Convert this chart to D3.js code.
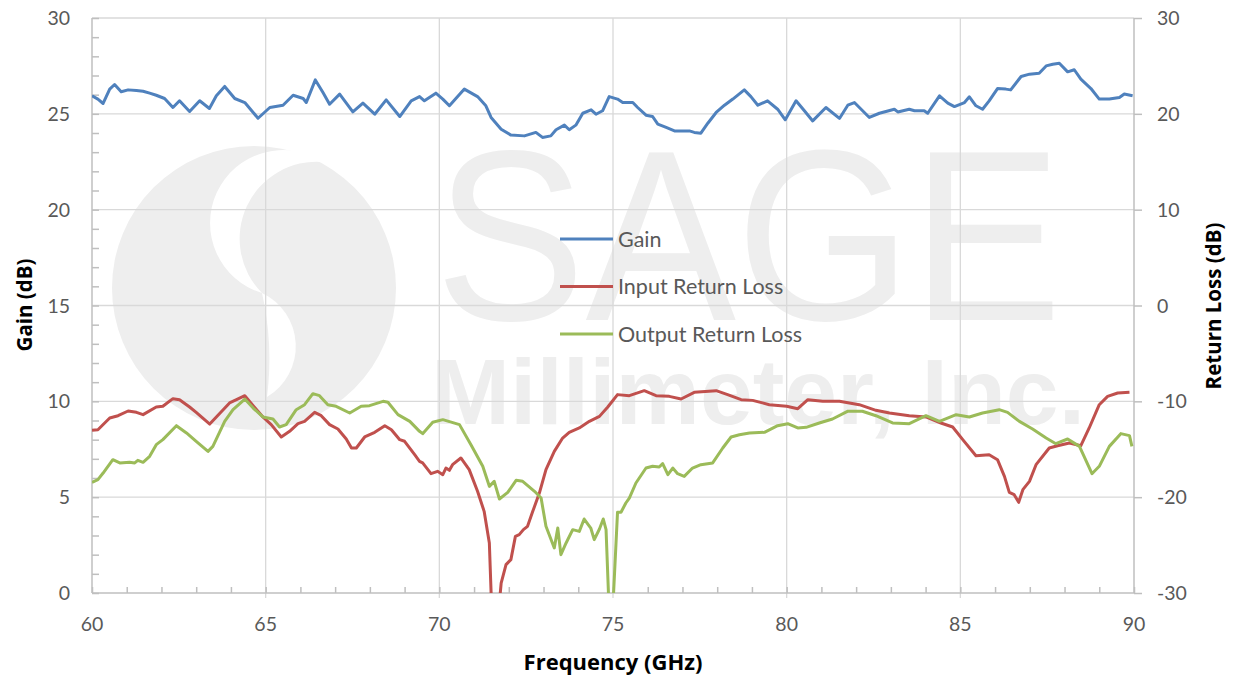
<!DOCTYPE html>
<html>
  <head>
    <script src="https://d3js.org/d3.v7.min.js" charset="utf-8"></script>
    <meta charset="UTF-8">
    <title>gain and return loss</title>
    <style>
      body { margin: 0; background: #fff; }
      text { font-family: Lato, "Open Sans", sans-serif; fill: #595959; }
      .title { font-family: "Open Sans", Lato, sans-serif; font-weight: bold; fill: #000; }
    </style>
  </head>
  <body>
    <svg class="chart"></svg>
    <script type="text/javascript">

     // gain (left axis, dB)
     var gainFreq = [60.0,60.17,60.32,60.51,60.65,60.84,61.04,61.28,61.47,61.66,61.85,62.09,62.33,62.52,62.81,63.1,63.38,63.58,63.82,64.11,64.4,64.78,65.12,65.5,65.79,66.08,66.17,66.43,66.65,66.84,67.13,67.51,67.8,68.14,68.47,68.86,69.19,69.43,
                     69.57,69.9,70.1,70.29,70.72,71.1,71.34,71.49,71.78,72.06,72.45,72.78,72.97,73.21,73.36,73.6,73.74,73.93,74.13,74.37,74.51,74.7,74.89,75.13,75.28,75.57,75.71,75.95,76.14,76.29,76.53,76.77,77.01,77.2,77.34,77.53,77.73,77.97,78.21,78.45,78.78,78.97,79.17,79.45,79.74,79.96,80.27,80.51,80.75,
                     81.13,81.52,81.76,81.95,82.38,82.67,83.1,83.2,83.53,83.68,83.96,84.06,84.4,84.64,84.83,85.12,85.26,85.45,85.64,85.83,86.07,86.31,86.45,86.75,86.99,87.27,87.47,87.66,87.85,88.09,88.28,88.47,88.76,89.0,89.29,89.58,89.72,89.96];
     var gainDb = [25.94,25.77,25.54,26.29,26.53,26.15,26.25,26.22,26.18,26.08,25.97,25.8,25.33,25.68,25.12,25.68,25.28,25.94,26.43,25.8,25.59,24.77,25.33,25.45,25.97,25.8,25.59,26.77,26.11,25.5,26.03,25.1,25.56,24.98,25.73,24.86,25.68,25.9,
                   25.68,26.08,25.77,25.42,26.29,25.9,25.42,24.81,24.2,23.89,23.85,24.03,23.77,23.85,24.17,24.41,24.17,24.41,25.03,25.21,24.98,25.16,25.9,25.77,25.59,25.59,25.33,24.93,24.86,24.46,24.29,24.11,24.11,24.11,24.03,23.99,24.51,25.07,25.45,25.77,26.25,25.9,25.45,25.68,25.24,24.69,25.68,25.16,24.63,
                   25.33,24.76,25.45,25.59,24.81,25.03,25.24,25.1,25.24,25.16,25.16,25.03,25.94,25.56,25.38,25.59,25.89,25.42,25.24,25.68,26.32,26.29,26.25,26.95,27.07,27.12,27.5,27.59,27.64,27.19,27.3,26.81,26.32,25.77,25.77,25.85,26.03,25.94];

     // input return loss (right axis, dB)
     var inFreq = [60.0,60.17,60.51,60.75,61.04,61.28,61.47,61.85,62.04,62.33,62.52,62.81,63.0,63.39,63.58,63.96,64.16,64.4,64.64,64.92,65.16,65.45,65.69,65.93,66.12,66.41,66.6,66.84,67.08,67.32,67.47,67.61,67.85,68.14,68.43,68.62,68.86,69.0,69.29,69.43,
                   69.52,69.76,69.95,70.1,70.19,70.29,70.38,70.62,70.86,71.1,71.29,71.44,71.52,71.62,71.73,71.78,71.92,72.06,72.19,72.3,72.42,72.54,72.69,72.88,73.07,73.31,73.55,73.74,74.03,74.32,74.61,74.85,75.13,75.47,75.9,76.24,76.62,76.96,77.34,77.97,78.3,78.69,79.02,79.5,80.0,80.32,80.61,
                   81.04,81.52,82.09,82.57,82.96,83.53,84.01,84.44,84.78,85.07,85.45,85.83,86.07,86.27,86.41,86.55,86.68,86.8,86.99,87.18,87.56,87.8,88.14,88.47,88.71,89.0,89.24,89.53,89.87];
     var inRl = [-13.03,-12.96,-11.74,-11.5,-11.01,-11.15,-11.39,-10.59,-10.52,-9.72,-9.83,-10.59,-11.15,-12.37,-11.63,-10.17,-9.83,-9.41,-10.45,-11.63,-12.43,-13.72,-13.13,-12.33,-12.09,-11.15,-11.5,-12.43,-12.89,-13.93,-14.87,-14.87,-13.72,-13.23,-12.54,-12.96,-14.0,-14.17,-15.57,-16.26,
                 -16.43,-17.55,-17.3,-17.65,-16.96,-17.2,-16.61,-15.91,-17.13,-19.39,-21.48,-24.78,-33,-34,-31,-28.96,-27.04,-26.52,-24.09,-23.91,-23.39,-23.04,-21.48,-19.57,-17.13,-15.22,-13.83,-13.23,-12.78,-12.09,-11.57,-10.59,-9.3,-9.41,-8.89,-9.41,-9.48,-9.76,-9.06,-8.89,-9.3,-9.83,-9.9,-10.35,-10.52,-10.77,-9.83,
                 -10.0,-10.0,-10.35,-10.94,-11.22,-11.5,-11.63,-12.26,-12.68,-14.0,-15.67,-15.57,-16.09,-17.83,-19.5,-19.74,-20.54,-19.22,-18.35,-16.61,-14.87,-14.63,-14.35,-14.63,-12.78,-10.35,-9.48,-9.13,-9.06];

     // output return loss (right axis, dB)
     var outFreq = [60.0,60.17,60.32,60.6,60.8,61.08,61.23,61.32,61.47,61.66,61.85,62.04,62.43,62.72,63.0,63.34,63.48,63.82,64.06,64.4,64.64,64.92,65.21,65.4,65.59,65.88,66.12,66.36,66.55,66.79,67.03,67.42,67.75,67.99,68.38,68.52,68.81,69.15,69.43,
                    69.52,69.81,70.1,70.58,70.91,71.25,71.44,71.58,71.73,71.97,72.21,72.4,72.74,72.93,73.07,73.31,73.41,73.5,73.65,73.84,74.03,74.17,74.36,74.46,74.61,74.72,74.8,74.89,74.99,75.13,75.23,75.37,75.47,75.66,75.95,76.14,76.33,76.43,76.58,76.72,76.86,77.05,77.29,77.53,77.87,78.16,78.4,78.64,78.93,79.36,79.74,80.03,80.32,80.56,
                    80.94,81.32,81.75,82.18,82.57,83.05,83.53,84.01,84.4,84.88,85.26,85.64,86.12,86.36,86.7,87.08,87.47,87.75,88.09,88.43,88.79,89.0,89.29,89.62,89.87,89.94];
     var outRl = [-18.45,-18.17,-17.48,-16.09,-16.43,-16.36,-16.43,-16.16,-16.36,-15.74,-14.52,-14.0,-12.54,-13.3,-14.17,-15.22,-14.7,-12.09,-10.87,-9.76,-10.7,-11.63,-11.84,-12.68,-12.43,-10.87,-10.35,-9.2,-9.41,-10.35,-10.52,-11.22,-10.52,-10.45,-10.0,-10.1,-11.39,-12.09,-13.13,
                  -13.37,-12.19,-11.91,-12.43,-14.52,-16.78,-18.87,-18.35,-20.19,-19.5,-18.24,-18.35,-19.39,-20.09,-23.04,-25.3,-23.22,-26.0,-24.78,-23.39,-23.57,-22.28,-23.22,-24.43,-23.32,-22.28,-23.39,-32,-32,-21.58,-21.58,-20.61,-20.09,-18.52,-16.96,-16.78,-16.85,-16.5,-17.65,-16.96,-17.55,-17.83,-16.96,-16.61,-16.43,-14.87,-13.72,-13.48,-13.3,-13.23,-12.54,-12.33,-12.78,-12.71,
                  -12.26,-11.84,-11.04,-11.04,-11.5,-12.26,-12.33,-11.5,-12.09,-11.39,-11.63,-11.22,-10.87,-11.15,-12.09,-12.89,-13.83,-14.42,-13.93,-14.7,-17.55,-16.78,-14.7,-13.37,-13.58,-14.7];

     var xTicks = [60, 65, 70, 75, 80, 85, 90],
         gainTicks = [0, 5, 10, 15, 20, 25, 30],
         rlTicks = [-30, -20, -10, 0, 10, 20, 30];

     var legendNames = ["Gain", "Input Return Loss", "Output Return Loss"],
         colors = ["#4f81bd", "#c0504d", "#9bbb59"];

     var width = 1236,
         height = 677,
         margin = {top: 18, right: 102, bottom: 84, left: 92};

     var chart = d3.select(".chart")
                   .attr("width", width)
                   .attr("height", height);

     var x = d3.scaleLinear().domain([60, 90]).range([margin.left, width - margin.right]);
     var yGain = d3.scaleLinear().domain([0, 30]).range([height - margin.bottom, margin.top]);
     var yRl = d3.scaleLinear().domain([-30, 30]).range([height - margin.bottom, margin.top]);

     var x0 = x.range()[0], x1 = x.range()[1], y0 = yGain.range()[0], y1 = yGain.range()[1];

     // watermark (logo + company name)
     var wmColor = "#eeeeee";
     var wm = chart.append("g").attr("fill", wmColor);
     wm.append("circle").attr("cx", 254).attr("cy", 288).attr("r", 142);
     wm.append("path").attr("fill", "#fff")
       .attr("d", "M323,162 A73,73 0 1 0 262,293 A77,77 0 0 1 323,162 Z");
     wm.append("path").attr("fill", "#fff")
       .attr("d", "M262,293 A59,59 0 0 1 267,397 A300,300 0 0 0 262,293 Z");
     wm.append("text").attr("x", 435).attr("y", 320)
       .attr("textLength", 627).attr("lengthAdjust", "spacingAndGlyphs")
       .style("font-family", "'Liberation Sans', sans-serif").style("font-size", "244px").style("fill", wmColor)
       .text("SAGE");
     wm.append("text").attr("x", 431).attr("y", 424)
       .attr("textLength", 654).attr("lengthAdjust", "spacingAndGlyphs")
       .style("font-family", "'Liberation Sans', sans-serif").style("font-weight", "bold").style("font-size", "93px").style("fill", wmColor)
       .text("Millimeter, Inc.");

     // grid
     var grid = chart.append("g").attr("stroke", "#d9d9d9").attr("stroke-width", 1.3);
     grid.selectAll(".hg").data(gainTicks.slice(1)).enter().append("line")
         .attr("x1", x0).attr("x2", x1)
         .attr("y1", function(d) { return yGain(d); }).attr("y2", function(d) { return yGain(d); });
     grid.selectAll(".vg").data(xTicks.slice(1, -1)).enter().append("line")
         .attr("y1", y1).attr("y2", y0 + 5)
         .attr("x1", function(d) { return x(d); }).attr("x2", function(d) { return x(d); });

     // axes
     var axisColor = "#bfbfbf";
     var leftAxis = chart.append("g").attr("transform", "translate(" + x0 + ",0)")
         .call(d3.axisRight(yGain).ticks(30).tickSize(7).tickFormat(""));
     leftAxis.select(".domain").remove();
     leftAxis.append("line").attr("y1", y0).attr("y2", y1);
     leftAxis.selectAll("line").attr("stroke", axisColor).attr("stroke-width", 1.5);

     var bottomAxis = chart.append("g").attr("transform", "translate(0," + y0 + ")")
         .call(d3.axisTop(x).ticks(30).tickSize(6).tickFormat(""));
     bottomAxis.select(".domain").remove();
     bottomAxis.append("line").attr("x1", x0).attr("x2", x1);
     bottomAxis.selectAll("line").attr("stroke", axisColor).attr("stroke-width", 1.5);

     var rightAxis = chart.append("g").attr("transform", "translate(" + x1 + ",0)")
         .call(d3.axisRight(yRl).tickValues(rlTicks).tickSize(8).tickFormat(""));
     rightAxis.select(".domain").remove();
     rightAxis.append("line").attr("y1", y0).attr("y2", y1);
     rightAxis.selectAll("line").attr("stroke", axisColor).attr("stroke-width", 1.5);

     // tick labels
     chart.append("g").selectAll("text").data(gainTicks).enter().append("text")
          .attr("x", 70).attr("y", function(d) { return yGain(d); })
          .attr("dy", "0.36em").attr("text-anchor", "end").style("font-size", "19.5px")
          .text(function(d) { return d; });
     chart.append("g").selectAll("text").data(rlTicks).enter().append("text")
          .attr("x", 1157).attr("y", function(d) { return yRl(d); })
          .attr("dy", "0.36em").style("font-size", "19.5px")
          .text(function(d) { return d; });
     chart.append("g").selectAll("text").data(xTicks).enter().append("text")
          .attr("x", function(d) { return x(d); }).attr("y", 631)
          .attr("text-anchor", "middle").style("font-size", "19.5px")
          .text(function(d) { return d; });

     // axis titles
     chart.append("text").attr("class", "title")
          .attr("transform", "translate(32,305) rotate(-90)").attr("text-anchor", "middle")
          .style("font-size", "20.5px").text("Gain (dB)");
     chart.append("text").attr("class", "title")
          .attr("transform", "translate(1221,306) rotate(-90)").attr("text-anchor", "middle")
          .style("font-size", "20.5px").text("Return Loss (dB)");
     chart.append("text").attr("class", "title")
          .attr("x", 613).attr("y", 670).attr("text-anchor", "middle")
          .style("font-size", "22px").text("Frequency (GHz)");

     // series
     chart.append("clipPath").attr("id", "plot")
          .append("rect").attr("x", x0).attr("y", y1).attr("width", x1 - x0).attr("height", y0 - y1);

     var series = [
         {xs: gainFreq, ys: gainDb, y: yGain},
         {xs: inFreq, ys: inRl, y: yRl},
         {xs: outFreq, ys: outRl, y: yRl}
     ];

     var lines = chart.append("g").attr("clip-path", "url(#plot)");
     series.forEach(function(s, i) {
         var line = d3.line()
                      .x(function(d) { return x(d[0]); })
                      .y(function(d) { return s.y(d[1]); });
         lines.append("path")
              .datum(d3.zip(s.xs, s.ys))
              .attr("fill", "none")
              .attr("stroke", colors[i])
              .attr("stroke-width", 3)
              .attr("stroke-linejoin", "round")
              .attr("d", line);
     });

     // legend
     var legend = chart.append("g").attr("transform", "translate(560,239)");
     var items = legend.selectAll("g").data(legendNames).enter().append("g")
                       .attr("transform", function(d, i) { return "translate(0," + i * 47.5 + ")"; });
     items.append("line").attr("x1", 0).attr("x2", 53)
          .attr("stroke", function(d, i) { return colors[i]; }).attr("stroke-width", 3);
     items.append("text").attr("x", 58).attr("dy", "0.36em").style("font-size", "21.5px")
          .text(function(d) { return d; });

    </script>
  </body>
</html>
